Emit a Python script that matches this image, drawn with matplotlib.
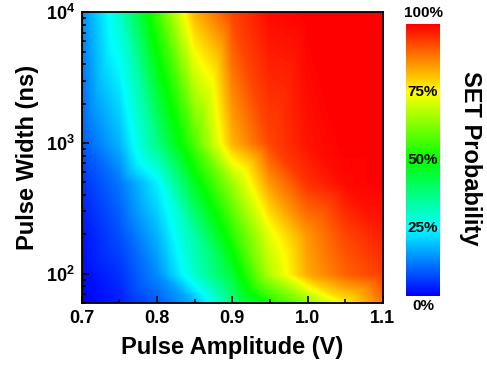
import numpy as np
import matplotlib
matplotlib.use("Agg")
import matplotlib.pyplot as plt
import matplotlib.tri as mtri
from matplotlib.colors import LinearSegmentedColormap
from matplotlib.ticker import FixedLocator, NullFormatter

# ---------------- data ----------------
amplitudes = [0.70, 0.75, 0.80, 0.85, 0.90, 0.95, 1.00, 1.05, 1.10]   # V
widths = [60, 100, 200, 500, 1000, 10000]                              # ns
# SET probability (%) for each width row (rows follow `widths`)
prob_w60    = [0, 3, 9, 18, 37, 52, 64, 76, 88]
prob_w100   = [1, 5, 14, 30, 45, 68, 83, 90, 94]
prob_w200   = [2, 8, 18, 34, 54, 73, 85, 93, 97]
prob_w500   = [5, 12, 24, 47, 66, 85, 95, 99, 100]
prob_w1000  = [9, 18, 37, 58, 82, 93, 98, 100, 100]
prob_w10000 = [14, 30, 56, 82, 93, 99, 100, 100, 100]

cbar_ticks = [0, 25, 50, 75, 100]
cbar_labels = ["0%", "25%", "50%", "75%", "100%"]
x_ticks = [0.7, 0.8, 0.9, 1.0, 1.1]
x_ticklabels = ["0.7", "0.8", "0.9", "1.0", "1.1"]

# ---------------- style ----------------
plt.rcParams['font.family'] = ['Liberation Sans', 'DejaVu Sans']
plt.rcParams['font.weight'] = 'bold'
plt.rcParams['mathtext.fontset'] = 'custom'
plt.rcParams['mathtext.rm'] = 'Liberation Sans:bold'
plt.rcParams['mathtext.bf'] = 'Liberation Sans:bold'
plt.rcParams['mathtext.it'] = 'Liberation Sans:bold'

cmap = LinearSegmentedColormap.from_list(
    "rainbow5",
    [(0.0, (0, 0, 1)), (0.25, (0, 1, 1)), (0.5, (0, 1, 0)),
     (0.75, (1, 1, 0)), (1.0, (1, 0, 0))])

Z = np.array([prob_w60, prob_w100, prob_w200, prob_w500, prob_w1000, prob_w10000], float)
A, LW = np.meshgrid(np.array(amplitudes), np.log10(widths))
tri = mtri.Triangulation(A.ravel(), LW.ravel())
interp = mtri.LinearTriInterpolator(tri, Z.ravel())

af = np.linspace(amplitudes[0], amplitudes[-1], 400)
lwf = np.linspace(np.log10(widths[0]), np.log10(widths[-1]), 400)
AF, LWF = np.meshgrid(af, lwf)
ZF = np.asarray(interp(AF, LWF))

fig = plt.figure(figsize=(4.87, 3.69), dpi=100)
ax = fig.add_axes([0.168, 0.1797, 0.618, 0.787])
ax.pcolormesh(AF, 10 ** LWF, ZF, cmap=cmap, vmin=0, vmax=100, shading='gouraud')
ax.set_yscale('log')
ax.set_xlim(0.7, 1.1)
ax.set_ylim(60, 1e4)

ax.xaxis.set_major_locator(FixedLocator(x_ticks))
ax.set_xticklabels(x_ticklabels)
ax.xaxis.set_minor_locator(FixedLocator([0.75, 0.85, 0.95, 1.05]))
ax.set_yticks([1e2, 1e3, 1e4])
ax.set_yticklabels([r'$10^{2}$', r'$10^{3}$', r'$10^{4}$'])
ax.yaxis.set_minor_formatter(NullFormatter())
ax.tick_params(which='both', direction='in', top=False, right=False, width=1.2, labelsize=13)
ax.tick_params(which='major', length=5, pad=5)
ax.tick_params(which='minor', length=3)
for s in ax.spines.values():
    s.set_linewidth(1.3)

ax.set_xlabel("Pulse Amplitude (V)", fontsize=17, fontweight='bold', labelpad=7)
ax.set_ylabel("Pulse Width (ns)", fontsize=17, fontweight='bold', labelpad=5)

# colorbar
cax = fig.add_axes([0.8337, 0.1978, 0.0698, 0.737])
grad = np.linspace(0, 100, 256).reshape(-1, 1)
cax.imshow(grad, aspect='auto', cmap=cmap, origin='lower', extent=[0, 1, 0, 100], vmin=0, vmax=100)
cax.set_xticks([])
cax.set_yticks([])
for s in cax.spines.values():
    s.set_visible(False)
for t, lab in zip(cbar_ticks, cbar_labels):
    if t == 0:
        cax.text(0.5, -1.0, lab, ha='center', va='top', fontsize=11, fontweight='bold',
                 transform=cax.transData, clip_on=False)
    elif t == 100:
        cax.text(0.5, 101.5, lab, ha='center', va='bottom', fontsize=11, fontweight='bold',
                 transform=cax.transData, clip_on=False)
    else:
        cax.text(0.5, t, lab, ha='center', va='center', fontsize=11, fontweight='bold',
                 transform=cax.transData, clip_on=False)
fig.text(0.967, 0.57, "SET Probability", rotation=-90, ha='center', va='center',
         fontsize=17, fontweight='bold')

fig.savefig("out.png", dpi=100)
